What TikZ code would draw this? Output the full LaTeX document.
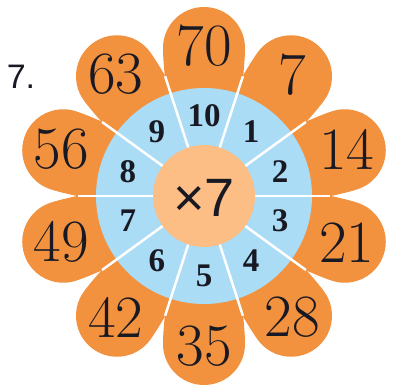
\documentclass[tikz,border=0pt]{standalone}
\usepackage{fontspec}
\newfontfamily\timesf{Liberation Serif}
\newfontfamily\arialf{Liberation Sans}
\definecolor{petalc}{RGB}{242,145,62}
\definecolor{ringc}{RGB}{170,220,246}
\definecolor{corec}{RGB}{252,190,132}
\definecolor{inkc}{RGB}{25,25,35}
\tikzset{
  petalnum/.style={inner sep=0pt,text=inkc,font=\rmfamily\fontsize{60}{62}\selectfont},
  ringnum/.style={inner sep=0pt,text=inkc,font=\timesf\bfseries\fontsize{33}{35}\selectfont},
  centertext/.style={inner sep=0pt,text=inkc,font=\arialf\fontsize{54}{56}\selectfont},
  labeltext/.style={inner sep=0pt,text=inkc,font=\arialf\fontsize{34}{36}\selectfont},
  divider/.style={white,line width=2.5pt}
}
\begin{document}
\begin{tikzpicture}[x=1pt,y=1pt]
\useasboundingbox (-204,-192) rectangle (189,196);
\foreach \a/\v in {90/70,54/7,18/14,-18/21,-54/28,-90/35,-126/42,-162/49,162/56,126/63} {
  \fill[petalc,rotate=\a] (85,-36) .. controls (112,-38) and (132,-41) .. (148,-41)
     arc[start angle=-90,end angle=90,radius=41]
     .. controls (132,41) and (112,38) .. (85,36) -- cycle;
}
\fill[ringc] (0,0) circle[radius=108];
\foreach \a in {0,36,...,324} \draw[divider] (\a:50) -- (\a:126);
\fill[corec] (0,0) circle[radius=51];
\foreach \a/\v in {90/70,54/7,18/14,-18/21,-54/28,-90/35,-126/42,-162/49,162/56,126/63}
  \node[petalnum] (p\v) at (\a:150) {\v};
\foreach \k in {1,...,10}
  \node[ringnum] (r\k) at ({90-36*\k}:80) {\k};
\node[centertext] (c) at (0,-2) {×7};
\node[labeltext] (lab) at (-183,119) {7.};
\end{tikzpicture}
\end{document}
